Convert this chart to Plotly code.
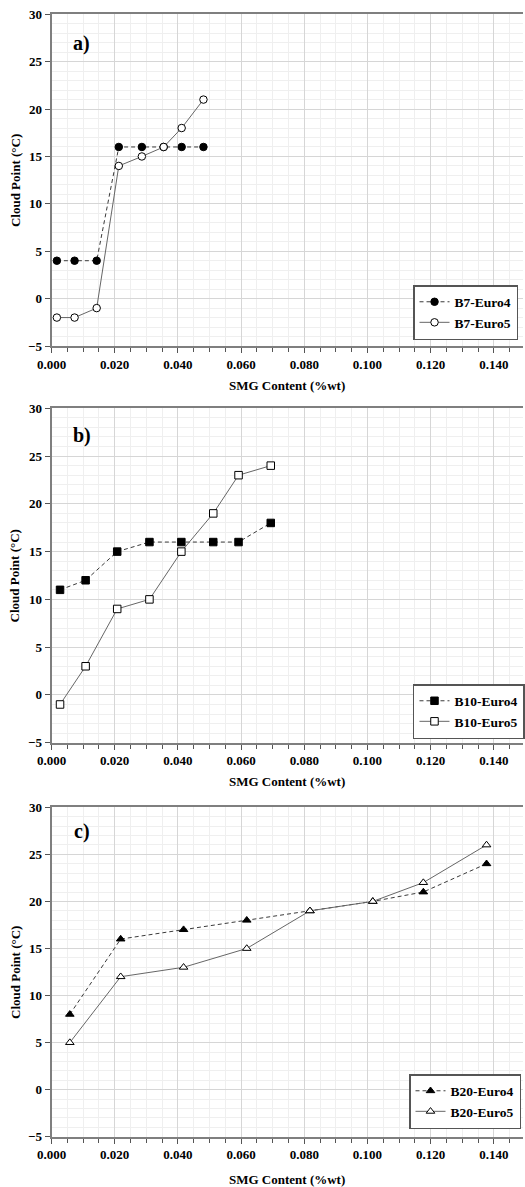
import plotly.graph_objects as go

# ---------------- data ----------------
x_a = [0.0017, 0.0073, 0.0143, 0.0213, 0.0286, 0.0355, 0.0412, 0.0481]
a_euro4 = [4, 4, 4, 16, 16, 16, 16, 16]
a_euro5 = [-2, -2, -1, 14, 15, 16, 18, 21]

x_b = [0.0027, 0.0108, 0.0208, 0.0310, 0.0411, 0.0512, 0.0592, 0.0694]
b_euro4 = [11, 12, 15, 16, 16, 16, 16, 18]
b_euro5 = [-1, 3, 9, 10, 15, 19, 23, 24]

x_c = [0.0058, 0.0219, 0.0418, 0.0618, 0.0818, 0.1017, 0.1177, 0.1377]
c_euro4 = [8, 16, 17, 18, 19, 20, 21, 24]
c_euro5 = [5, 12, 13, 15, 19, 20, 22, 26]

names = [("B7-Euro4", "B7-Euro5"), ("B10-Euro4", "B10-Euro5"), ("B20-Euro4", "B20-Euro5")]
panel_labels = ["a)", "b)", "c)"]
symbols = ["circle", "square", "triangle-up"]
x_title = "SMG Content (%wt)"
y_title = "Cloud Point (°C)"
y_ticks = [-5, 0, 5, 10, 15, 20, 25, 30]
x_ticks = [0.0, 0.02, 0.04, 0.06, 0.08, 0.10, 0.12, 0.14]

# ---------------- layout geometry (pixels) ----------------
W, H = 525, 1187
left_px = 51.7
px_per_unit = 3171.4
x_max = (W - left_px) / px_per_unit
panels_px = [(14.3, 346.0), (408.3, 742.7), (807.3, 1136.7)]
xtitle_px = [385, 781.7, 1179]
legend_px = [(520, 340), (527, 739), (523, 1129)]
label_px = [43, 435, 831]

FONT = "Liberation Serif"

def py(p):
    return 1 - p / H

fig = go.Figure()
data = [(x_a, a_euro4, a_euro5), (x_b, b_euro4, b_euro5), (x_c, c_euro4, c_euro5)]

for i, (xs, e4, e5) in enumerate(data):
    ax = "" if i == 0 else str(i + 1)
    leg = "legend" if i == 0 else f"legend{i+1}"
    sym = symbols[i]
    fig.add_trace(go.Scatter(
        x=xs, y=e4, name=names[i][0], mode="lines+markers",
        xaxis="x" + ax, yaxis="y" + ax, legend=leg,
        line=dict(color="#3a3a3a", width=1, dash="4px,3px"),
        marker=dict(symbol=sym, size=7.5, color="black", line=dict(color="black", width=1)),
    ))
    fig.add_trace(go.Scatter(
        x=xs, y=e5, name=names[i][1], mode="lines+markers",
        xaxis="x" + ax, yaxis="y" + ax, legend=leg,
        line=dict(color="#666666", width=1),
        marker=dict(symbol=sym, size=7.5, color="white", line=dict(color="black", width=1)),
    ))

layout = dict(
    width=W, height=H,
    margin=dict(l=0, r=0, t=0, b=0),
    paper_bgcolor="white", plot_bgcolor="white",
    template="none",
    font=dict(family=FONT, size=13, color="black"),
    annotations=[],
)

for i in range(3):
    ax = "" if i == 0 else str(i + 1)
    top, bot = panels_px[i]
    layout["xaxis" + ax] = dict(
        domain=[left_px / W, 1], range=[0, x_max], anchor="y" + ax,
        tickvals=x_ticks, tickformat=".3f",
        tickfont=dict(family=FONT, size=13, weight="bold", color="black"),
        showline=True, linecolor="#7f7f7f", linewidth=2, mirror=True,
        ticks="outside", ticklen=5, tickcolor="#555555", tickwidth=1,
        showgrid=True, gridcolor="#d6d6d6", gridwidth=1,
        minor=dict(dtick=0.005, tick0=0, ticks="outside", ticklen=4, tickcolor="#555555",
                   showgrid=True, gridcolor="#efefef", gridwidth=1),
        zeroline=False, automargin=False,
    )
    layout["yaxis" + ax] = dict(
        domain=[py(bot), py(top)], range=[-5, 30], anchor="x" + ax,
        tickvals=y_ticks,
        tickfont=dict(family=FONT, size=13, weight="bold", color="black"),
        showline=True, linecolor="#7f7f7f", linewidth=2,
        ticks="outside", ticklen=5, tickcolor="#555555", tickwidth=1,
        showgrid=True, gridcolor="#d6d6d6", gridwidth=1,
        minor=dict(dtick=1, tick0=0, showgrid=True, gridcolor="#efefef", gridwidth=1),
        zeroline=False, automargin=False,
    )
    lx, lby = legend_px[i]
    layout["legend" if i == 0 else f"legend{i+1}"] = dict(
        x=lx / W, y=py(lby), xanchor="right", yanchor="bottom",
        xref="paper", yref="paper",
        bgcolor="white", bordercolor="#555555", borderwidth=1.5,
        font=dict(family=FONT, size=13.5, weight="bold", color="black"),
        tracegroupgap=0, traceorder="normal", itemwidth=30,
    )
    layout["annotations"].append(dict(
        text=x_title, x=(left_px + W) / 2 / W, y=py(xtitle_px[i]), xref="paper", yref="paper",
        xanchor="center", yanchor="middle", showarrow=False,
        font=dict(family=FONT, size=13, weight="bold", color="black")))
    layout["annotations"].append(dict(
        text=y_title, x=15 / W, y=py((top + bot) / 2), xref="paper", yref="paper",
        xanchor="center", yanchor="middle", textangle=-90, showarrow=False,
        font=dict(family=FONT, size=13, weight="bold", color="black")))
    layout["annotations"].append(dict(
        text=panel_labels[i], x=82 / W, y=py(label_px[i]), xref="paper", yref="paper",
        xanchor="center", yanchor="middle", showarrow=False,
        font=dict(family=FONT, size=20, weight="bold", color="black")))

fig.update_layout(**layout)
fig.write_html(
    "out.html",
    config={"displayModeBar": False},
    post_script="document.body.style.margin='0';document.body.style.overflow='hidden';",
)
